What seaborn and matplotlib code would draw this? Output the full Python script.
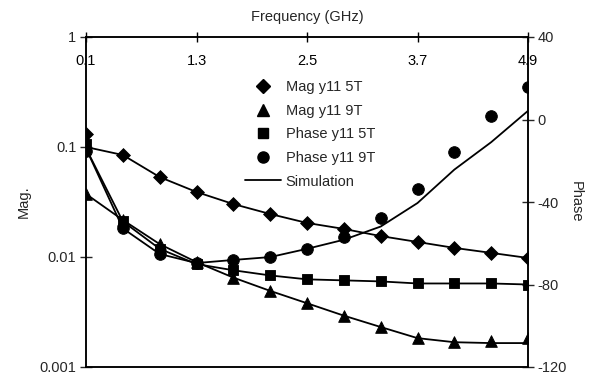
import numpy as np
import pandas as pd
import matplotlib
matplotlib.use("Agg")
import matplotlib.pyplot as plt
import seaborn as sns
from matplotlib.lines import Line2D

freq = [0.1, 0.5, 0.9, 1.3, 1.7, 2.1, 2.5, 2.9, 3.3, 3.7, 4.1, 4.5, 4.9]
mag_5t = [0.130, 0.0846, 0.0533, 0.039, 0.0303, 0.0246, 0.0204, 0.0180, 0.0155, 0.0137, 0.0121, 0.0109, 0.0098]
mag_9t = [0.0374, 0.0217, 0.0131, 0.00898, 0.0065, 0.00492, 0.00380, 0.00293, 0.00231, 0.00183, 0.00168, 0.00171, 0.00183]
phase_5t = [-11.9, -49.4, -62.7, -70.1, -73.1, -75.6, -77.5, -78.0, -78.5, -79.5, -79.5, -79.5, -80.0]
phase_9t = [-15.2, -52.8, -65.2, -69.6, -68.1, -66.7, -62.7, -56.8, -47.9, -33.8, -15.7, 1.9, 16.0]

sim_mag_5t = [0.100, 0.0846, 0.0533, 0.039, 0.0303, 0.0246, 0.0204, 0.0180, 0.0155, 0.0137, 0.0121, 0.0109, 0.0098]
sim_mag_9t = [0.0374, 0.0217, 0.0131, 0.00898, 0.0065, 0.00492, 0.00380, 0.00293, 0.00231, 0.00183, 0.00168, 0.00165, 0.00165]
sim_phase_5t = [-14.0, -49.4, -62.7, -70.1, -73.1, -75.6, -77.5, -78.0, -78.5, -79.5, -79.5, -79.5, -80.0]
sim_phase_9t = [-14.0, -52.8, -65.2, -69.6, -68.1, -66.7, -62.7, -58.3, -51.9, -40.5, -24.3, -11.0, 4.2]

x_ticks = [0.1, 1.3, 2.5, 3.7, 4.9]
x_tick_labels = ["0.1", "1.3", "2.5", "3.7", "4.9"]
mag_ticks = [1, 0.1, 0.01, 0.001]
mag_tick_labels = ["1", "0.1", "0.01", "0.001"]
phase_ticks = [40, 0, -40, -80, -120]
phase_tick_labels = ["40", "0", "-40", "-80", "-120"]

sns.set_theme(style="ticks")
plt.rcParams['font.family'] = ['Liberation Sans', 'DejaVu Sans']
plt.rcParams['axes.linewidth'] = 1.1

fig = plt.figure(figsize=(5.96, 3.80), dpi=100)
ax = fig.add_axes([86/596, 1-367/380, (528-86)/596, (367-37)/380])
ax2 = ax.twinx()

lw = 1.3
col = "black"
sns.lineplot(x=freq, y=sim_mag_5t, ax=ax, color=col, lw=lw)
sns.lineplot(x=freq, y=sim_mag_9t, ax=ax, color=col, lw=lw)
sns.scatterplot(x=freq, y=mag_5t, ax=ax, marker="D", s=50, color=col, edgecolor=col, zorder=3)
sns.scatterplot(x=freq, y=mag_9t, ax=ax, marker="^", s=70, color=col, edgecolor=col, zorder=3)

sns.lineplot(x=freq, y=sim_phase_5t, ax=ax2, color=col, lw=lw)
sns.lineplot(x=freq, y=sim_phase_9t, ax=ax2, color=col, lw=lw)
sns.scatterplot(x=freq, y=phase_5t, ax=ax2, marker="s", s=60, color=col, edgecolor=col, zorder=3)
sns.scatterplot(x=freq, y=phase_9t, ax=ax2, marker="o", s=70, color=col, edgecolor=col, zorder=3)

ax.set_yscale("log")
ax.set_ylim(0.001, 1)
ax.set_xlim(0.1, 4.9)
ax2.set_ylim(-120, 40)

ax.set_yticks(mag_ticks)
ax.set_yticklabels(mag_tick_labels)
ax.yaxis.set_minor_locator(matplotlib.ticker.NullLocator())
ax2.set_yticks(phase_ticks)
ax2.set_yticklabels(phase_tick_labels)

ax.xaxis.set_ticks_position("top")
ax.xaxis.set_label_position("top")
ax.set_xticks(x_ticks)
ax.set_xticklabels(x_tick_labels)
ax.tick_params(axis="x", direction="inout", length=7, width=1.0, pad=-26, labelsize=10.5, colors="black")
ax.tick_params(axis="y", direction="inout", length=8, width=1.0, labelsize=10.5, pad=3)
ax2.tick_params(axis="y", direction="inout", length=8, width=1.0, labelsize=10.5, pad=3)

for a in (ax, ax2):
    for s in a.spines.values():
        s.set_visible(True)
        s.set_color("black")

ax.set_xlabel("Frequency (GHz)", fontsize=10.5, labelpad=8)
ax.set_ylabel("Mag.", fontsize=10.5, labelpad=6)
ax2.set_ylabel("Phase", fontsize=10.5, rotation=270, va="bottom", labelpad=1)

handles = [
    Line2D([], [], ls="none", marker="D", ms=7, color=col),
    Line2D([], [], ls="none", marker="^", ms=8, color=col),
    Line2D([], [], ls="none", marker="s", ms=7.5, color=col),
    Line2D([], [], ls="none", marker="o", ms=8, color=col),
    Line2D([], [], color=col, lw=lw),
]
labels = ["Mag y11 5T", "Mag y11 9T", "Phase y11 5T", "Phase y11 9T", "Simulation"]
fig.legend(handles, labels, loc="upper left", bbox_to_anchor=(245/596, 1-80/380),
           frameon=False, fontsize=10.5, handlelength=2.5, handletextpad=0.3,
           labelspacing=0.66, borderpad=0, borderaxespad=0)

fig.savefig("out.png", dpi=100)
